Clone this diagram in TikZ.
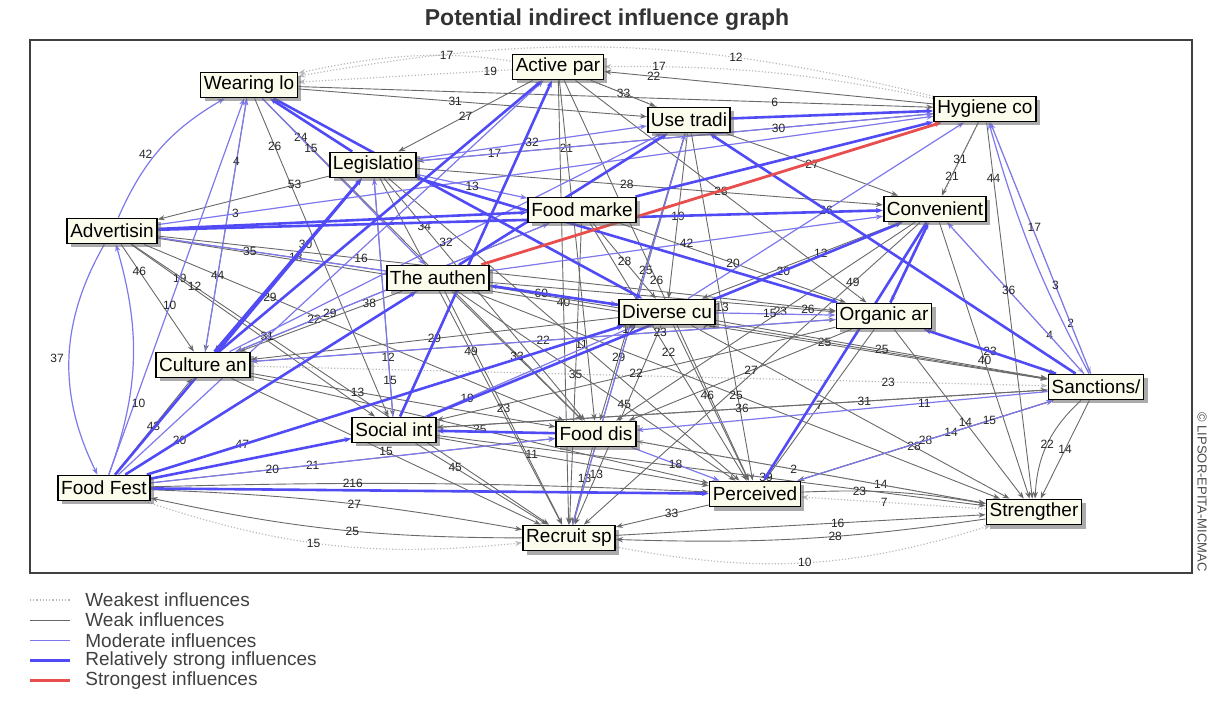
\documentclass[tikz,border=0pt]{standalone}
\usepackage{fontspec}
\setmainfont{Liberation Sans}
\usepackage{tikz}
\usetikzlibrary{arrows.meta,shadows,positioning}

\definecolor{boxfill}{RGB}{252,252,236}
\definecolor{weakestc}{RGB}{185,185,185}
\definecolor{weakc}{RGB}{105,105,105}
\definecolor{moderatec}{RGB}{125,120,235}
\definecolor{strongc}{RGB}{80,75,245}
\definecolor{strongestc}{RGB}{232,78,78}

\pgfdeclarelayer{edges}
\pgfsetlayers{edges,main}

\tikzset{
  varbox/.style={draw=black, line width=0.9pt, fill=boxfill, inner sep=1.6pt,
    minimum height=12.5pt, font=\fontsize{9.5}{10}\selectfont,
    drop shadow={shadow xshift=2pt, shadow yshift=-2pt, fill=black!60, opacity=.55}},
  numlbl/.style={font=\fontsize{6}{6}\selectfont, inner sep=0.4pt, text=black!85},
  infl/.style={-{Stealth[length=3.5pt,width=2.6pt]}},
  weakestln/.style={draw=weakestc, densely dotted, line width=0.6pt},
  weakln/.style={draw=weakc, line width=0.45pt},
  moderateln/.style={draw=moderatec, line width=0.6pt},
  strongln/.style={draw=strongc, line width=1.3pt},
  strongestln/.style={draw=strongestc, line width=1.4pt},
  weakestinf/.style={weakestln, infl},
  weakinf/.style={weakln, infl},
  moderateinf/.style={moderateln, infl},
  stronginf/.style={strongln, infl},
  strongestinf/.style={strongestln, infl},
  legtext/.style={anchor=west, inner sep=0pt, text=black!75, font=\fontsize{9.5}{10}\selectfont},
}

\begin{document}
\begin{tikzpicture}[x=0.5pt,y=-0.5pt]
  \useasboundingbox (0,0) rectangle (1213,704);

  % title, frame and credit
  \node[font=\bfseries\fontsize{11.5}{12}\selectfont, text=black!80] (title) at (607,20) {Potential indirect influence graph};
  \draw[line width=0.9pt, black!75] (30,40) rectangle (1192,573);
  \node[rotate=-90, font=\fontsize{6.5}{7}\selectfont, text=black!70] (credit) at (1202,492) {\textcopyright{} LIPSOR-EPITA-MICMAC};

  % variables
  \node[varbox] (wear)    at (249,85)   {Wearing lo};
  \node[varbox] (active)  at (558,67)   {Active par};
  \node[varbox] (usetrad) at (689,120)  {Use tradi};
  \node[varbox] (hyg)     at (985,109)  {Hygiene co};
  \node[varbox] (legis)   at (373,165)  {Legislatio};
  \node[varbox] (foodmkt) at (582,210)  {Food marke};
  \node[varbox] (conv)    at (935,209)  {Convenient};
  \node[varbox] (adv)     at (112,231)  {Advertisin};
  \node[varbox] (auth)    at (438,278)  {The authen};
  \node[varbox] (divers)  at (667,312)  {Diverse cu};
  \node[varbox] (organic) at (884,316)  {Organic ar};
  \node[varbox] (culture) at (203,365)  {Culture an};
  \node[varbox] (sanct)   at (1096,387) {Sanctions/};
  \node[varbox] (social)  at (394,430)  {Social int};
  \node[varbox] (fooddis) at (596,434)  {Food dis};
  \node[varbox] (fest)    at (104,488)  {Food Fest};
  \node[varbox] (perc)    at (755,494)  {Perceived};
  \node[varbox] (streng)  at (1034,512) {Strengther};
  \node[varbox] (recruit) at (569,538)  {Recruit sp};

  \begin{pgfonlayer}{edges}
    % weakest influences
    \foreach \a/\b/\n/\p in {active/wear/19/.1, streng/perc/7/.55, hyg/sanct/2/.8,
        conv/sanct/4/.75, streng/fooddis/14/.3, culture/sanct/23/.8, hyg/organic/21/.3}
      \draw[weakestinf] (\a) -- node[numlbl,pos=\p]{\n} (\b);
    \draw[weakestinf] (hyg) to[bend right=12] node[numlbl,pos=.3]{12} (wear);
    \draw[weakestinf] (usetrad) to[bend right=18] node[numlbl,pos=.6]{17} (wear);
    \draw[weakestinf] (recruit) to[bend right=14] node[numlbl,pos=.5]{10} (streng);
    \draw[weakestinf] (fest) to[bend right=12] node[numlbl,pos=.45]{15} (recruit);
    \draw[weakestinf] (hyg) to[bend right=6] node[numlbl,pos=.85]{17} (active);

    % weak influences
    \foreach \a/\b/\n/\p in {wear/usetrad/31/.45, hyg/active/22/.85, wear/social/26/.15,
        wear/fooddis/24/.12, active/usetrad/33/.5, active/fooddis/21/.2, active/recruit/40/.5,
        active/perc/26/.5, active/legis/27/.5, active/organic/28/.5, usetrad/conv/27/.5,
        usetrad/fooddis/29/.78, usetrad/recruit/25/.35, usetrad/perc/13/.5, hyg/conv/31/.5,
        hyg/streng/44/.15, hyg/legis/17/.85, legis/conv/28/.45, legis/adv/53/.2,
        legis/culture/30/.38, legis/fooddis/34/.2, legis/recruit/49/.5, legis/perc/11/.55,
        foodmkt/recruit/35/.5, foodmkt/perc/22/.5, foodmkt/culture/22/.75, foodmkt/organic/20/.5,
        conv/streng/40/.5, conv/divers/12/.4, conv/fooddis/23/.45, conv/social/20/.25,
        conv/recruit/49/.2, adv/culture/46/.25, adv/social/19/.2, adv/divers/13/.3,
        adv/organic/16/.3, adv/sanct/24/.62, adv/fooddis/29/.3, adv/recruit/12/.15,
        auth/recruit/23/.5, auth/perc/45/.6, auth/organic/26/.92, auth/sanct/25/.6,
        auth/culture/38/.2, auth/streng/25/.5, divers/recruit/13/.75, divers/perc/46/.45,
        divers/streng/28/.7, divers/sanct/25/.5, divers/culture/29/.5, organic/sanct/23/.5,
        organic/streng/14/.55, organic/fooddis/27/.45, organic/social/22/.5, organic/perc/7/.5,
        culture/organic/22/.5, culture/fooddis/13/.35, culture/perc/25/.5, culture/recruit/15/.5,
        sanct/streng/14/.5, sanct/perc/14/.4, sanct/social/36/.5, social/recruit/45/.3,
        social/perc/11/.35, social/streng/39/.6, fooddis/recruit/13/.4, fooddis/streng/2/.45,
        fest/fooddis/21/.4, fest/divers/47/.2, fest/culture/43/.5, perc/recruit/33/.4,
        perc/sanct/28/.5, wear/hyg/6/.75, usetrad/divers/19/.5, foodmkt/divers/28/.5,
        wear/culture/44/.7, legis/social/12/.75, auth/fooddis/33/.5, social/sanct/31/.7}
      \draw[weakinf] (\a) -- node[numlbl,pos=\p]{\n} (\b);
    \draw[weakinf] (sanct) to[bend right=22] node[numlbl,pos=.5]{22} (streng);
    \draw[weakinf] (fest) to[bend left=4] node[numlbl,pos=.55]{27} (recruit);
    \draw[weakinf] (recruit) to[bend left=6] node[numlbl,pos=.45]{25} (fest);
    \draw[weakinf] (streng) to[bend left=5] node[numlbl,pos=.4]{28} (recruit);
    \draw[weakinf] (perc) to[bend left=6] node[numlbl,pos=.3]{23} (streng);
    \draw[weakinf] (fest) to[bend left=2] node[numlbl,pos=.35]{216} (perc);
    \draw[weakinf] (recruit) -- node[numlbl,pos=.6]{16} (streng);

    % moderate influences
    \foreach \a/\b/\n/\p in {culture/wear/4/.75, sanct/hyg/3/.35, sanct/conv/36/.55,
        fest/wear/10/.45, fest/usetrad/20/.1, fest/active/31/.35, culture/usetrad/32/.5,
        auth/conv/42/.5, divers/organic/15/.45, divers/hyg/26/.5, culture/foodmkt/29/.3,
        adv/divers/35/.2, wear/auth/15/.3, legis/hyg/30/.7, fooddis/perc/18/.5,
        auth/divers/60/.4, legis/usetrad/32/.5, social/divers/19/.2, sanct/fooddis/11/.3,
        perc/sanct/15/.75, organic/culture/23/.3, recruit/usetrad/12/.5, adv/hyg/3/.1,
        legis/foodmkt/13/.5, social/legis/15/.15, fest/fooddis/20/.3}
      \draw[moderateinf] (\a) -- node[numlbl,pos=\p]{\n} (\b);
    \draw[moderateinf] (adv) to[bend right=28] node[numlbl,pos=.5,left=2pt]{37} (fest);
    \draw[moderateinf] (fest) to[bend right=18] node[numlbl,pos=.3,right=1pt]{10} (adv);
    \draw[moderateinf] (adv) to[bend left=18] node[numlbl,pos=.45,left=1pt]{42} (wear);
    \draw[moderateinf] (sanct) to[bend left=6] node[numlbl,pos=.6,right=2pt]{17} (hyg);

    % relatively strong influences
    \foreach \a/\b in {fest/auth, fest/legis, fest/social, culture/active, adv/conv,
        adv/foodmkt, auth/usetrad, legis/organic, wear/divers, sanct/usetrad, conv/perc,
        organic/conv, fooddis/social, social/active, divers/auth, foodmkt/hyg, legis/wear,
        sanct/organic, social/conv, fest/perc, usetrad/hyg, culture/legis, fest/divers}
      \draw[stronginf] (\a) -- (\b);

    % strongest influence
    \draw[strongestinf] (auth) -- (hyg);
  \end{pgfonlayer}

  % legend
  \foreach \i/\s/\t in {0/weakestln/Weakest influences, 1/weakln/Weak influences,
      2/moderateln/Moderate influences, 3/strongln/Relatively strong influences,
      4/strongestln/Strongest influences} {
    \coordinate (lgA\i) at (30,600+20.2*\i);
    \coordinate (lgB\i) at (70,600+20.2*\i);
    \draw[\s] (lgA\i) -- (lgB\i);
    \node[legtext] (lgT\i) at (85,600+20.2*\i) {\t};
  }
\end{tikzpicture}
\end{document}
